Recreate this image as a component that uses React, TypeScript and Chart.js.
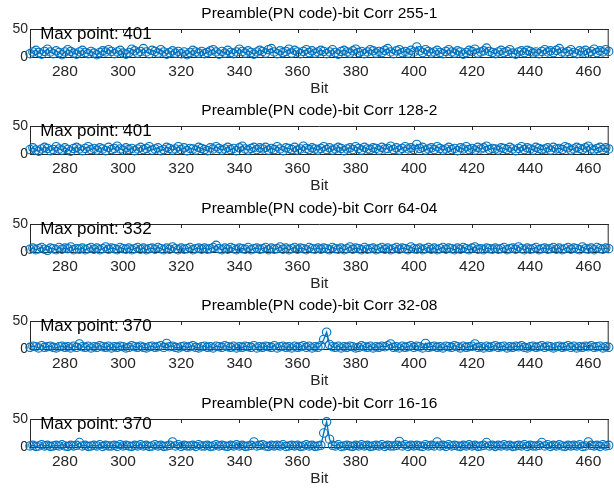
import { useEffect, useRef } from "react";
import { Chart, registerables } from "chart.js";
Chart.register(...registerables);

const FIRST_BIT = 268;
const LAST_BIT = 467;
const bits: number[] = [];
for (let b = FIRST_BIT; b <= LAST_BIT; b++) bits.push(b);

const titles = [
  "Preamble(PN code)-bit Corr 255-1",
  "Preamble(PN code)-bit Corr 128-2",
  "Preamble(PN code)-bit Corr 64-04",
  "Preamble(PN code)-bit Corr 32-08",
  "Preamble(PN code)-bit Corr 16-16",
];
const maxPoints = [401, 401, 332, 370, 370];
const xTicks = [280, 300, 320, 340, 360, 380, 400, 420, 440, 460];
const yTicks = [0, 50];

const corr255_1 = [
  6, 9, 12, 8, 5, 10, 14, 9, 6, 11, 8, 4, 9, 13, 10, 7, 5, 9, 12, 8,
  6, 10, 7, 4, 8, 11, 9, 13, 10, 6, 9, 12, 7, 5, 8, 14, 11, 7, 10, 15,
  9, 6, 12, 10, 7, 13, 9, 5, 8, 11, 7, 10, 6, 9, 4, 8, 12, 9, 7, 10,
  6, 8, 11, 13, 9, 5, 10, 7, 12, 8, 6, 9, 14, 10, 7, 11, 8, 5, 9, 12,
  10, 7, 13, 15, 9, 6, 11, 8, 10, 14, 7, 12, 9, 6, 10, 13, 8, 11, 7, 9,
  12, 10, 6, 9, 13, 8, 5, 10, 12, 9, 7, 11, 14, 8, 10, 6, 9, 13, 11, 7,
  10, 8, 12, 15, 9, 6, 11, 13, 8, 10, 7, 12, 9, 18, 11, 8, 13, 10, 7, 9,
  12, 8, 6, 10, 13, 9, 7, 11, 9, 5, 8, 12, 10, 14, 7, 9, 11, 16, 10, 8,
  6, 9, 12, 8, 10, 13, 7, 5, 9, 11, 8, 12, 10, 7, 9, 6, 10, 13, 9, 11,
  8, 12, 15, 9, 7, 10, 13, 8, 6, 11, 9, 12, 7, 10, 14, 8, 11, 9, 13, 10,
];
const corr128_2 = [
  8, 11, 7, 5, 9, 12, 10, 6, 8, 13, 9, 7, 11, 8, 5, 10, 12, 9, 6, 10,
  13, 8, 10, 7, 11, 9, 6, 12, 8, 10, 14, 9, 7, 11, 8, 10, 6, 9, 12, 8,
  10, 13, 7, 9, 11, 6, 8, 12, 10, 7, 9, 13, 8, 11, 6, 10, 9, 7, 12, 10,
  8, 6, 11, 9, 13, 10, 7, 9, 12, 8, 10, 6, 11, 14, 9, 7, 10, 12, 8, 11,
  9, 12, 7, 10, 8, 13, 9, 6, 11, 10, 8, 12, 7, 9, 14, 10, 8, 11, 9, 7,
  10, 13, 8, 11, 7, 9, 12, 10, 6, 9, 11, 8, 13, 10, 7, 12, 9, 8, 11, 10,
  7, 12, 9, 10, 14, 8, 11, 7, 10, 13, 9, 11, 8, 17, 10, 12, 7, 9, 11, 8,
  13, 10, 7, 9, 12, 8, 10, 6, 11, 9, 13, 8, 10, 7, 12, 9, 11, 14, 8, 10,
  9, 7, 11, 10, 8, 12, 9, 6, 10, 13, 8, 11, 9, 7, 12, 10, 8, 9, 11, 7,
  12, 9, 10, 8, 13, 11, 7, 9, 12, 10, 8, 11, 14, 9, 7, 10, 12, 8, 11, 9,
];
const corr64_04 = [
  5, 7, 4, 6, 8, 5, 3, 7, 6, 4, 8, 5, 7, 6, 9, 4, 6, 5, 7, 4,
  6, 8, 5, 7, 4, 6, 9, 5, 7, 6, 4, 8, 6, 5, 7, 4, 6, 8, 5, 7,
  4, 6, 7, 5, 8, 6, 4, 7, 5, 9, 6, 4, 7, 5, 6, 8, 4, 6, 7, 5,
  7, 5, 6, 8, 12, 6, 4, 7, 5, 8, 6, 4, 7, 6, 5, 8, 4, 6, 7, 5,
  6, 8, 4, 7, 5, 6, 9, 5, 7, 4, 6, 8, 5, 7, 6, 4, 8, 6, 5, 7,
  5, 7, 6, 4, 8, 6, 5, 7, 4, 6, 9, 5, 7, 6, 4, 8, 5, 6, 7, 4,
  6, 8, 5, 7, 4, 6, 8, 5, 7, 6, 4, 9, 6, 5, 7, 4, 6, 8, 5, 7,
  4, 6, 8, 5, 7, 6, 4, 7, 5, 8, 6, 4, 7, 9, 5, 6, 4, 7, 6, 5,
  7, 5, 6, 8, 4, 6, 7, 5, 9, 6, 4, 7, 5, 6, 8, 4, 6, 7, 5, 6,
  8, 5, 7, 4, 6, 8, 5, 7, 6, 4, 9, 6, 5, 7, 4, 8, 6, 5, 7, 6,
];
const corr32_08 = [
  3, 5, 4, 2, 6, 3, 4, 5, 3, 2, 4, 5, 3, 4, 2, 5, 3, 9, 4, 3,
  5, 2, 4, 3, 6, 4, 3, 5, 2, 4, 3, 5, 4, 2, 3, 6, 4, 3, 5, 3,
  2, 4, 5, 3, 4, 6, 3, 10, 4, 5, 3, 2, 4, 5, 3, 4, 6, 3, 2, 4,
  5, 3, 4, 2, 5, 4, 3, 6, 4, 3, 5, 2, 4, 3, 5, 4, 3, 6, 2, 4,
  3, 5, 4, 3, 6, 2, 4, 5, 3, 4, 2, 5, 3, 4, 6, 3, 5, 2, 4, 3,
  6, 17, 30, 8, 4, 3, 5, 2, 4, 3, 5, 4, 2, 3, 6, 4, 3, 5, 2, 4,
  3, 5, 4, 6, 9, 3, 4, 2, 5, 3, 4, 6, 3, 5, 4, 2, 10, 3, 4, 5,
  3, 4, 2, 5, 4, 3, 6, 4, 2, 5, 3, 4, 5, 9, 3, 4, 2, 5, 3, 4,
  6, 3, 4, 5, 2, 4, 3, 5, 4, 6, 3, 2, 4, 5, 3, 4, 6, 3, 5, 4,
  2, 4, 5, 3, 4, 6, 3, 5, 2, 4, 3, 5, 4, 6, 3, 4, 5, 2, 4, 3,
];
const corr16_16 = [
  2, 3, 1, 2, 4, 2, 3, 1, 2, 3, 2, 4, 2, 1, 3, 2, 3, 8, 2, 3,
  1, 2, 3, 2, 4, 1, 3, 2, 2, 3, 1, 4, 2, 3, 2, 1, 3, 2, 4, 2,
  3, 1, 2, 4, 2, 3, 1, 2, 3, 9, 2, 4, 1, 3, 2, 2, 3, 1, 4, 2,
  2, 3, 1, 2, 4, 2, 3, 2, 1, 3, 2, 4, 2, 3, 1, 2, 3, 9, 2, 3,
  4, 2, 1, 3, 2, 3, 2, 4, 1, 2, 3, 2, 3, 1, 2, 4, 2, 3, 1, 2,
  3, 25, 45, 14, 3, 2, 4, 1, 2, 3, 2, 1, 3, 2, 4, 2, 3, 1, 2, 3,
  2, 4, 1, 3, 2, 2, 3, 10, 2, 4, 1, 3, 2, 3, 2, 1, 4, 2, 3, 2,
  9, 2, 3, 1, 4, 2, 3, 2, 1, 3, 2, 4, 2, 3, 1, 2, 3, 8, 2, 3,
  1, 3, 2, 4, 2, 3, 1, 2, 3, 2, 4, 1, 3, 2, 2, 3, 8, 2, 4, 1,
  3, 2, 4, 2, 1, 3, 2, 3, 2, 4, 1, 2, 9, 3, 2, 3, 1, 4, 2, 3,
];
const seriesList = [corr255_1, corr128_2, corr64_04, corr32_08, corr16_16];

const W = 614;
const tops = [0, 97, 195, 292, 390];
const heights = [97, 98, 97, 98, 103];
const FONT = "'Liberation Sans', Arial, Helvetica, sans-serif";
const AX = "#262626";
const BLUE = "#0072BD";

function Subplot({ idx }: { idx: number }) {
  const ref = useRef<HTMLCanvasElement | null>(null);
  const H = heights[idx];
  useEffect(() => {
    if (!ref.current) return;
    const title = titles[idx];
    const maxPt = maxPoints[idx];
    const values = seriesList[idx];
    const boxPlugin = {
      id: "matlabBox",
      beforeDatasetsDraw(chart: any) {
        const { ctx, chartArea: a, scales } = chart;
        ctx.save();
        ctx.strokeStyle = AX;
        ctx.lineWidth = 1;
        ctx.beginPath();
        ctx.moveTo(a.left, a.top + 0.5);
        ctx.lineTo(a.right, a.top + 0.5);
        ctx.moveTo(a.right - 0.5, a.top);
        ctx.lineTo(a.right - 0.5, a.bottom);
        for (const t of xTicks) {
          const px = Math.round(scales.x.getPixelForValue(t)) + 0.5;
          ctx.moveTo(px, a.top);
          ctx.lineTo(px, a.top + 4);
          ctx.moveTo(px, a.bottom);
          ctx.lineTo(px, a.bottom - 4);
        }
        for (const t of yTicks) {
          const py = Math.round(scales.y.getPixelForValue(t)) + 0.5;
          ctx.moveTo(a.left, py);
          ctx.lineTo(a.left + 4, py);
          ctx.moveTo(a.right, py);
          ctx.lineTo(a.right - 4, py);
        }
        ctx.stroke();
        ctx.restore();
      },
      afterDraw(chart: any) {
        const { ctx, chartArea: a, scales } = chart;
        ctx.save();
        ctx.fillStyle = "#000";
        ctx.textBaseline = "middle";
        ctx.textAlign = "center";
        ctx.font = `15.5px ${FONT}`;
        ctx.fillText(title, (a.left + a.right) / 2, 14);
        ctx.textAlign = "left";
        ctx.font = `17px ${FONT}`;
        ctx.fillText(
          `Max point: ${maxPt}`,
          scales.x.getPixelForValue(271.5),
          scales.y.getPixelForValue(40)
        );
        ctx.restore();
      },
    };
    const chart = new Chart(ref.current, {
      type: "line",
      data: {
        datasets: [
          {
            data: bits.map((b, i) => ({ x: b, y: values[i] })),
            borderColor: BLUE,
            borderWidth: 1.3,
            pointRadius: 4.2,
            pointBorderWidth: 1.1,
            pointBorderColor: BLUE,
            pointBackgroundColor: "rgba(0,114,189,0.06)",
            tension: 0,
            clip: false as any,
          },
        ],
      },
      options: {
        responsive: false,
        animation: false,
        events: [],
        layout: { padding: { top: 29, left: 0, right: 0, bottom: H - 98 } },
        plugins: { legend: { display: false }, tooltip: { enabled: false }, title: { display: false } },
        scales: {
          x: {
            type: "linear",
            min: FIRST_BIT,
            max: LAST_BIT,
            afterBuildTicks: (s: any) => {
              s.ticks = xTicks.map((v) => ({ value: v }));
            },
            afterFit: (s: any) => {
              s.height = 41;
            },
            grid: { display: false, drawTicks: false },
            border: { display: true, color: AX, width: 1 },
            ticks: {
              font: { family: FONT, size: 15.5 },
              color: AX,
              padding: 5,
              maxRotation: 0,
              autoSkip: false,
            },
            title: {
              display: true,
              text: "Bit",
              font: { family: FONT, size: 15.5 },
              color: AX,
              padding: 0,
            },
          },
          y: {
            type: "linear",
            min: 0,
            max: 50,
            afterBuildTicks: (s: any) => {
              s.ticks = yTicks.map((v) => ({ value: v }));
            },
            afterFit: (s: any) => {
              s.width = 30;
            },
            grid: { display: false, drawTicks: false },
            border: { display: true, color: AX, width: 1 },
            ticks: { font: { family: FONT, size: 14 }, color: AX, padding: 2 },
          },
        },
      },
      plugins: [boxPlugin],
    } as any);
    return () => chart.destroy();
  }, [idx, H]);
  return (
    <canvas
      ref={ref}
      width={W}
      height={H}
      style={{ position: "absolute", left: 0, top: tops[idx], width: W, height: H, display: "block" }}
    />
  );
}

export default function App() {
  return (
    <div style={{ position: "fixed", left: 0, top: 0, width: W, height: 493, background: "#fff", overflow: "hidden" }}>
      {titles.map((_, i) => (
        <Subplot key={i} idx={i} />
      ))}
    </div>
  );
}
